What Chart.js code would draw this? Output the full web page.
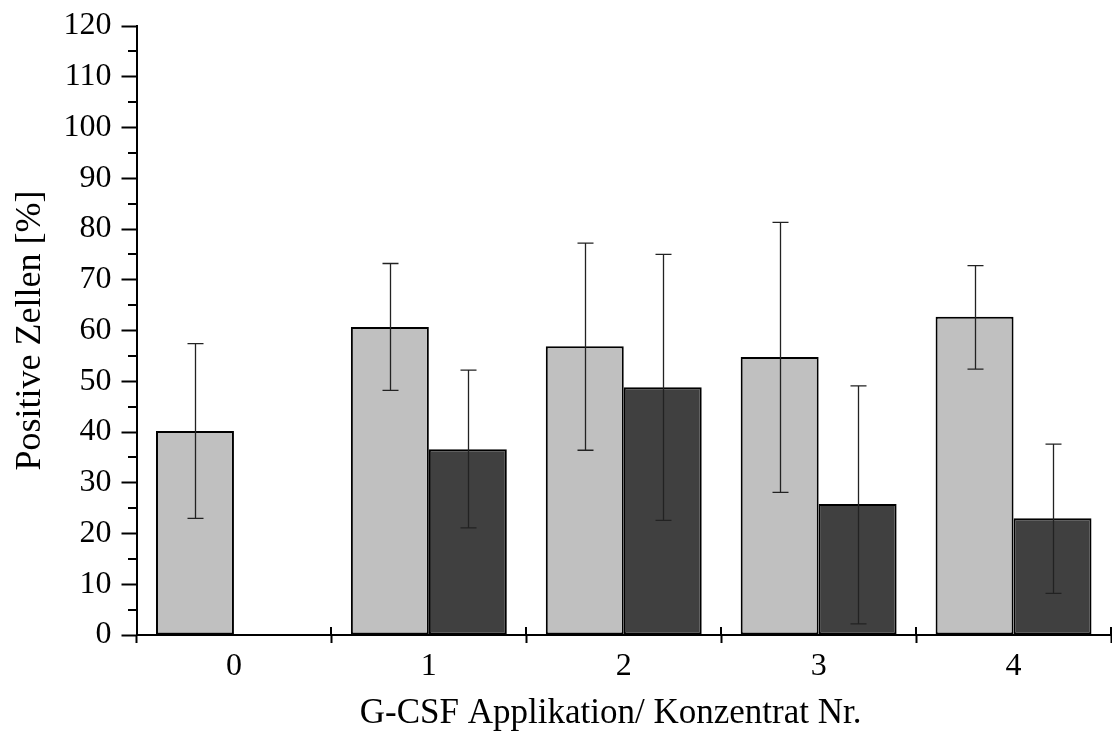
<!DOCTYPE html>
<html>
<head>
<meta charset="utf-8">
<script src="https://cdn.jsdelivr.net/npm/chart.js@4/dist/chart.umd.min.js"></script>
<style>
  html, body { margin: 0; padding: 0; background: #fff; }
  #wrap { width: 1112px; height: 736px; }
</style>
</head>
<body>
<div id="wrap"><canvas id="cellChart" width="1112" height="736"></canvas></div>
<script>
// categories (application / concentrate no.)
const categories = ['0', '1', '2', '3', '4'];

// mean values in percent
const lightValues = [40.2, 60.7, 56.9, 54.8, 62.7];
const darkValues  = [null, 36.6, 48.8, 25.8, 23.0];

// error bar ends (lower / upper)
const lightLow  = [23.0, 48.2, 36.4, 28.1, 52.4];
const lightHigh = [57.4, 73.2, 77.2, 81.3, 72.8];
const darkLow   = [null, 21.1, 22.6, 2.2, 8.2];
const darkHigh  = [null, 52.2, 75.0, 49.1, 37.6];

const errors = [
	{ low: lightLow, high: lightHigh },
	{ low: darkLow, high: darkHigh }
];

const FONT = 'Liberation Serif, Times New Roman, serif';

// Draw whiskers on top of each bar
const errorBars = {
	id: 'errorBars',
	afterDatasetsDraw(chart) {
		const ctx = chart.ctx;
		const y = chart.scales.y;
		ctx.save();
		ctx.strokeStyle = '#222';
		ctx.lineWidth = 1.3;
		chart.data.datasets.forEach((ds, di) => {
			const meta = chart.getDatasetMeta(di);
			meta.data.forEach((bar, i) => {
				const lo = errors[di].low[i], hi = errors[di].high[i];
				if (lo == null || hi == null) return;
				const x = Math.round(bar.x) + 0.5;
				const yLo = y.getPixelForValue(lo), yHi = y.getPixelForValue(hi);
				ctx.beginPath();
				ctx.moveTo(x, yLo); ctx.lineTo(x, yHi);
				ctx.moveTo(x - 8, yLo); ctx.lineTo(x + 8, yLo);
				ctx.moveTo(x - 8, yHi); ctx.lineTo(x + 8, yHi);
				ctx.stroke();
			});
		});
		ctx.restore();
	}
};

// Minor y ticks and the upper half of the crossing x ticks
const axisExtras = {
	id: 'axisExtras',
	afterDraw(chart) {
		const ctx = chart.ctx;
		const y = chart.scales.y;
		const area = chart.chartArea;
		const left = Math.round(area.left);
		ctx.save();
		ctx.strokeStyle = '#000';
		ctx.lineWidth = 2;
		ctx.beginPath();
		for (let v = 5; v < 120; v += 10) {
			const py = Math.round(y.getPixelForValue(v));
			ctx.moveTo(left - 9, py);
			ctx.lineTo(left, py);
		}
		const step = (area.right - area.left) / categories.length;
		for (let i = 0; i <= categories.length; i++) {
			const px = Math.round(area.left + i * step);
			ctx.moveTo(px, area.bottom);
			ctx.lineTo(px, area.bottom - 8);
		}
		ctx.stroke();
		ctx.restore();
	}
};

new Chart(document.getElementById('cellChart').getContext('2d'), {
	type: 'bar',
	data: {
		labels: categories,
		datasets: [{
			data: lightValues,
			backgroundColor: '#c0c0c0',
			borderColor: '#000',
			borderWidth: 2,
			borderSkipped: false,
			inflateAmount: 0,
			categoryPercentage: 0.8,
			barPercentage: 1.0
		}, {
			data: darkValues,
			backgroundColor: '#404040',
			borderColor: '#000',
			borderWidth: 2,
			borderSkipped: false,
			inflateAmount: 0,
			categoryPercentage: 0.8,
			barPercentage: 1.0
		}]
	},
	options: {
		responsive: false,
		animation: false,
		layout: { padding: { top: 25, right: 1, left: 0, bottom: 0 } },
		plugins: {
			legend: { display: false },
			tooltip: { enabled: false }
		},
		scales: {
			x: {
				grid: {
					drawOnChartArea: false,
					offset: true,
					tickLength: 8,
					tickColor: '#000',
					tickWidth: 2
				},
				border: { color: '#000', width: 2 },
				ticks: {
					color: '#000',
					padding: 4,
					font: { family: FONT, size: 32 }
				},
				title: {
					display: true,
					// trailing spaces nudge the title a little to the left
					text: 'G-CSF Applikation/ Konzentrat Nr.\u00a0\u00a0\u00a0',
					color: '#000',
					font: { family: FONT, size: 35 },
					padding: { top: 0, bottom: 1 }
				},
				afterFit(scale) { scale.height = 101; }
			},
			y: {
				min: 0,
				max: 120,
				ticks: {
					stepSize: 10,
					color: '#000',
					padding: 10,
					font: { family: FONT, size: 32, lineHeight: 1 }
				},
				grid: {
					drawOnChartArea: false,
					tickLength: 15,
					tickColor: '#000',
					tickWidth: 2
				},
				border: { color: '#000', width: 2 },
				title: {
					display: true,
					text: 'Positive Zellen [%]',
					color: '#000',
					font: { family: FONT, size: 36 },
					padding: { top: 9, bottom: 0 }
				},
				afterFit(scale) { scale.width = 136.5; }
			}
		}
	},
	plugins: [errorBars, axisExtras]
});
</script>
</body>
</html>
